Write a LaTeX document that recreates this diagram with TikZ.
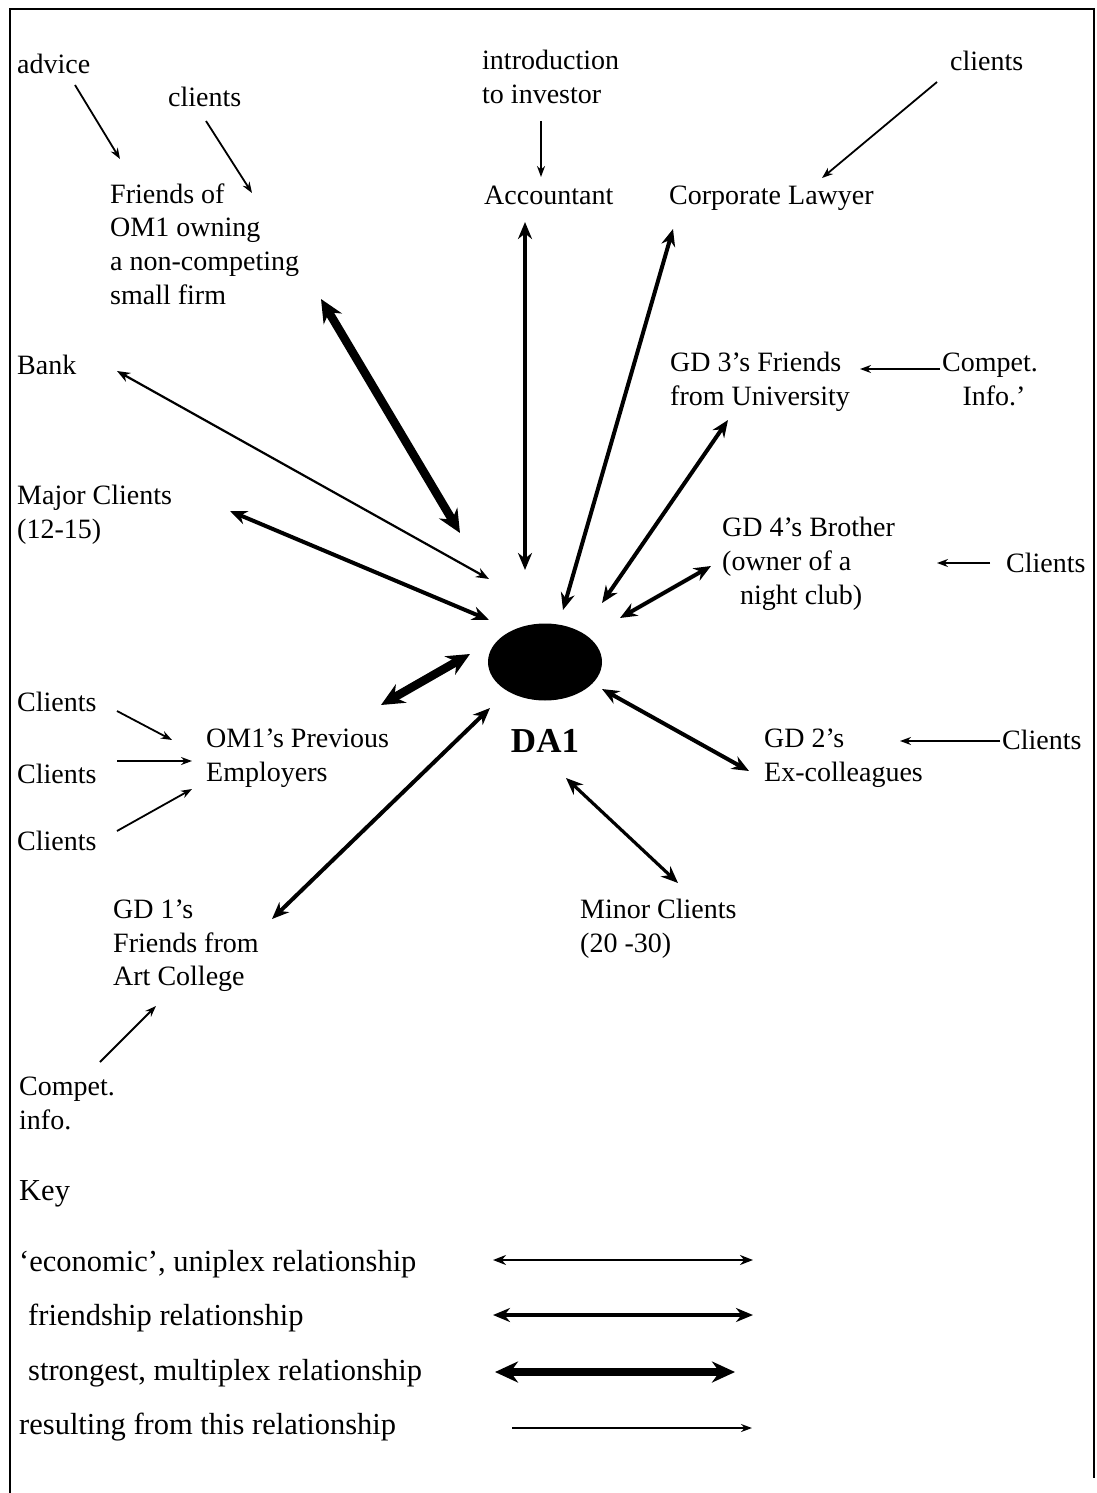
\documentclass[tikz,border=0pt]{standalone}
\usepackage{fontspec}
\setmainfont{Liberation Serif}
\usetikzlibrary{arrows.meta,shapes.geometric}
\begin{document}
\begin{tikzpicture}[x=1pt,y=-1pt,
  txt/.style={anchor=west, inner sep=0pt, align=left, yshift=-3pt,
    font=\fontsize{28}{33.7}\selectfont,
    execute at begin node=\strut, execute at end node=\strut},
  keytxt/.style={txt, font=\fontsize{30.5}{36}\selectfont},
  econ/.style={line width=2.2pt, {Stealth[length=13pt,width=10pt]}-{Stealth[length=13pt,width=10pt]}},
  friend/.style={line width=4pt, {Stealth[length=17pt,width=14pt]}-{Stealth[length=17pt,width=14pt]}},
  strong/.style={line width=8.5pt, {Stealth[length=23pt,width=21pt]}-{Stealth[length=23pt,width=21pt]}},
  res/.style={line width=1.8pt, -{Stealth[length=11pt,width=8pt]}}
]
\useasboundingbox (0,0) rectangle (1096,1493);
% frame
\draw[line width=1.5pt] (10,1493) -- (10,9) -- (1094,9) -- (1094,1478);

% hub
\node[ellipse, fill=black, minimum width=114pt, minimum height=77pt, inner sep=0pt] (hub) at (545,662) {};
\node[txt, anchor=center, font=\fontsize{35}{40}\selectfont\bfseries] (da1) at (545,741) {DA1};

% text nodes
\node[txt] (advice) at (17,64) {advice};
\node[txt] (clientsA) at (168,97) {clients};
\node[txt] (friends) at (110,246) {Friends of\\OM1 owning\\a non-competing\\small firm};
\node[txt] (intro) at (482,79) {introduction\\to investor};
\node[txt] (accountant) at (484,195) {Accountant};
\node[txt] (lawyer) at (669,195) {Corporate Lawyer};
\node[txt] (clientsB) at (950,61) {clients};
\node[txt] (bank) at (17,365) {Bank};
\node[txt] (gd3) at (670,381) {GD 3’s Friends\\from University};
\node[txt, anchor=center, align=center] (compet1) at (990,381) {Compet.\\\hspace*{8pt}Info.’};
\node[txt] (major) at (17,514) {Major Clients\\(12-15)};
\node[txt] (gd4) at (722,563) {GD 4’s Brother\\(owner of a\\\hspace*{18pt}night club)};
\node[txt] (clientsC) at (1006,563) {Clients};
\node[txt] (clients1) at (17,702) {Clients};
\node[txt] (om1prev) at (206,757) {OM1’s Previous\\Employers};
\node[txt] (clients2) at (17,774) {Clients};
\node[txt] (clients3) at (17,841) {Clients};
\node[txt] (gd2) at (764,757) {GD 2’s\\Ex-colleagues};
\node[txt] (clientsD) at (1002,740) {Clients};
\node[txt] (gd1) at (113,945) {GD 1’s\\Friends from\\Art College};
\node[txt] (minor) at (580,928) {Minor Clients\\(20 -30)};
\node[txt] (compet2) at (19,1105) {Compet.\\info.};

% key
\node[keytxt] (key) at (19,1190) {Key};
\node[keytxt] (key1) at (19,1261) {‘economic’, uniplex relationship};
\node[keytxt] (key2) at (28,1315) {friendship relationship};
\node[keytxt] (key3) at (28,1370) {strongest, multiplex relationship};
\node[keytxt] (key4) at (19,1424) {resulting from this relationship};

% connector end points
\coordinate (advice-s) at (75,85);   \coordinate (advice-e) at (120,159);
\coordinate (clientsA-s) at (206,121); \coordinate (clientsA-e) at (252,193);
\coordinate (intro-s) at (541,121);  \coordinate (intro-e) at (541,177);
\coordinate (clientsB-s) at (937,82); \coordinate (clientsB-e) at (822,178);
\coordinate (compet1-s) at (940,369); \coordinate (compet1-e) at (860,369);
\coordinate (clientsC-s) at (990,563); \coordinate (clientsC-e) at (937,563);
\coordinate (clients1-s) at (117,711); \coordinate (clients1-e) at (172,740);
\coordinate (clients2-s) at (117,761); \coordinate (clients2-e) at (192,761);
\coordinate (clients3-s) at (117,831); \coordinate (clients3-e) at (192,789);
\coordinate (clientsD-s) at (1000,741); \coordinate (clientsD-e) at (900,741);
\coordinate (compet2-s) at (100,1062); \coordinate (compet2-e) at (156,1006);

\coordinate (bank-a) at (117,371);   \coordinate (bank-b) at (489,579);
\coordinate (friends-a) at (321,299); \coordinate (friends-b) at (460,533);
\coordinate (acc-a) at (525,222);    \coordinate (acc-b) at (525,570);
\coordinate (law-a) at (673,229);    \coordinate (law-b) at (563,610);
\coordinate (major-a) at (230,511);  \coordinate (major-b) at (489,620);
\coordinate (gd3-a) at (728,420);    \coordinate (gd3-b) at (602,603);
\coordinate (gd4-a) at (711,566);    \coordinate (gd4-b) at (620,618);
\coordinate (om1-a) at (381,705);    \coordinate (om1-b) at (470,654);
\coordinate (gd1-a) at (272,919);    \coordinate (gd1-b) at (490,708);
\coordinate (gd2-a) at (749,771);    \coordinate (gd2-b) at (602,689);
\coordinate (minor-a) at (678,883);  \coordinate (minor-b) at (566,778);

\coordinate (k1-a) at (493,1260); \coordinate (k1-b) at (753,1260);
\coordinate (k2-a) at (493,1315); \coordinate (k2-b) at (753,1315);
\coordinate (k3-a) at (495,1372); \coordinate (k3-b) at (735,1372);
\coordinate (k4-a) at (512,1428); \coordinate (k4-b) at (752,1428);

% resulting arrows
\foreach \n in {advice,clientsA,intro,clientsB,compet1,clientsC,clients1,clients2,clients3,clientsD,compet2}
  \draw[res] (\n-s) -- (\n-e);

% relationships
\draw[econ] (bank-a) -- (bank-b);
\draw[strong] (friends-a) -- (friends-b);
\draw[friend] (acc-a) -- (acc-b);
\draw[friend] (law-a) -- (law-b);
\draw[friend] (major-a) -- (major-b);
\draw[friend] (gd3-a) -- (gd3-b);
\draw[friend] (gd4-a) -- (gd4-b);
\draw[strong] (om1-a) -- (om1-b);
\draw[friend] (gd1-a) -- (gd1-b);
\draw[friend] (gd2-a) -- (gd2-b);
\draw[friend, line width=3.2pt] (minor-a) -- (minor-b);

% key arrows
\draw[econ] (k1-a) -- (k1-b);
\draw[friend] (k2-a) -- (k2-b);
\draw[strong] (k3-a) -- (k3-b);
\draw[res] (k4-a) -- (k4-b);
\end{tikzpicture}
\end{document}
